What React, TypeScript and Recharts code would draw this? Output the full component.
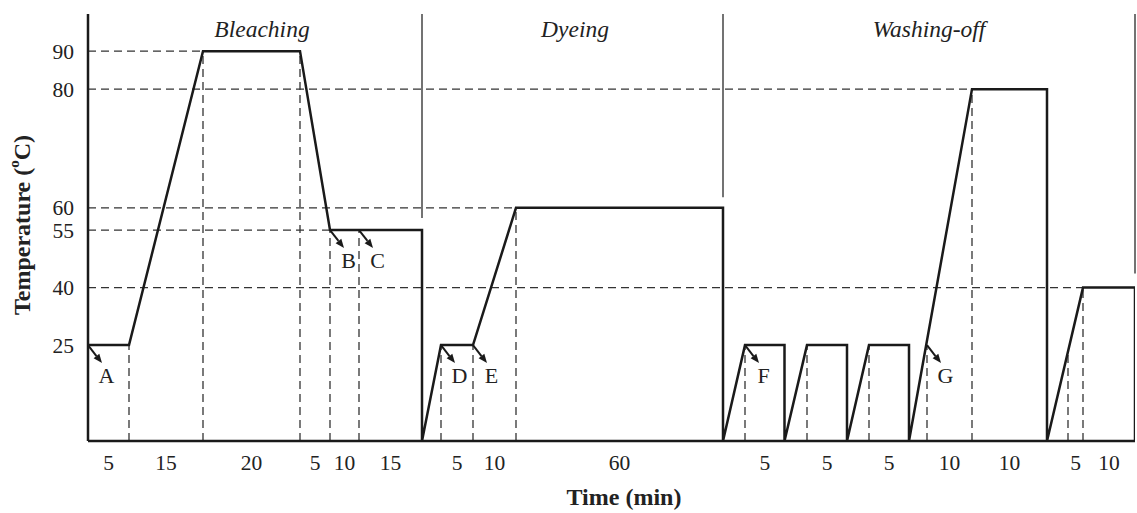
import React from "react";
import { LineChart, Line, XAxis, YAxis, ReferenceLine, ReferenceDot } from "recharts";

// Schematic time positions (segment widths are not drawn to time scale)
const profileX = [0, 4.1, 11.5, 21.2, 24.2, 33.4, 33.4, 35.3, 38.5, 42.8, 63.5, 63.5, 65.7, 69.65, 69.65, 71.9, 75.9, 75.9, 78.1, 82.1, 82.1, 88.4, 95.9, 95.9, 99.5, 104.7, 104.7];
const profileTemp = [25, 25, 90, 90, 55, 55, 0, 25, 25, 60, 60, 0, 25, 25, 0, 25, 25, 0, 25, 25, 0, 80, 80, 0, 40, 40, 0];

const tempTicks = [25, 40, 55, 60, 80, 90];

// duration of each step, written under the segment it spans
const segStart = [0, 4.1, 11.5, 21.2, 24.2, 27.1, 35.3, 38.5, 42.8, 65.7, 71.9, 78.1, 83.9, 88.4, 98.0, 99.5];
const segEnd = [4.1, 11.5, 21.2, 24.2, 27.1, 33.4, 38.5, 42.8, 63.5, 69.65, 75.9, 82.1, 88.4, 95.9, 99.5, 104.7];
const durationLabels = ["5", "15", "20", "5", "10", "15", "5", "10", "60", "5", "5", "5", "10", "10", "5", "10"];

// dashed guides
const hGuideTemp = [90, 80, 60, 55, 40];
const hGuideEnd = [11.5, 88.4, 42.8, 24.2, 99.5];
const vGuideX = [4.1, 11.5, 21.2, 24.2, 27.1, 35.3, 38.5, 42.8, 65.7, 71.9, 78.1, 83.9, 88.4, 98.0, 99.5];
const vGuideTop = [25, 90, 90, 55, 55, 25, 25, 60, 25, 25, 25, 25, 80, 23, 40];

// process stages
const phaseNames = ["Bleaching", "Dyeing", "Washing-off"];
const phaseCenter = [17.4, 48.7, 84.1];
const phaseDividerX = [33.4, 63.5, 104.7];
const phaseDividerFrom = [57.7, 61.8, 43.7];

// dosing points
const markNames = ["A", "B", "C", "D", "E", "F", "G"];
const markX = [0, 24.2, 27.1, 35.3, 38.5, 65.7, 83.9];
const markTemp = [25, 55, 55, 25, 25, 25, 25];

const profile = profileX.map((x, i) => ({ x, t: profileTemp[i] }));
const segMid = segStart.map((s, i) => +((s + segEnd[i]) / 2).toFixed(3));

const SERIF = '"Liberation Serif", "Times New Roman", serif';
const INK = "#1a1a1a";
const GUIDE = "#333";

// temperature axis is drawn with uneven spacing between its marks
const tempKnots = [0, 55, 60, 80, 90, 100];
const knotFrac = [0, 0.494, 0.546, 0.824, 0.913, 1];

function tempScale() {
  let dom: number[] = [0, 100];
  let rng: number[] = [0, 1];
  const s: any = (v: number) => {
    let i = 1;
    while (i < tempKnots.length - 1 && v > tempKnots[i]) i++;
    const t0 = tempKnots[i - 1];
    const t1 = tempKnots[i];
    const p = knotFrac[i - 1] + ((v - t0) / (t1 - t0)) * (knotFrac[i] - knotFrac[i - 1]);
    return rng[0] + p * (rng[1] - rng[0]);
  };
  s.domain = (d?: number[]) => {
    if (d === undefined) return dom.slice();
    dom = d.slice();
    return s;
  };
  s.range = (r?: number[]) => {
    if (r === undefined) return rng.slice();
    rng = r.slice();
    return s;
  };
  s.invert = (px: number) => {
    const p = (px - rng[0]) / (rng[1] - rng[0]);
    let i = 1;
    while (i < knotFrac.length - 1 && p > knotFrac[i]) i++;
    const f0 = knotFrac[i - 1];
    const f1 = knotFrac[i];
    return tempKnots[i - 1] + ((p - f0) / (f1 - f0)) * (tempKnots[i] - tempKnots[i - 1]);
  };
  s.ticks = () => tempTicks.slice();
  s.tickFormat = () => (v: number) => String(v);
  s.copy = () => tempScale().domain(dom).range(rng);
  return s;
}

const MarkArrow = (props: any) => {
  const { cx, cy, name } = props;
  if (cx == null || cy == null) return null;
  const dx = 14;
  const dy = 18;
  const len = Math.hypot(dx, dy);
  const ux = dx / len;
  const uy = dy / len;
  const tipX = cx + dx;
  const tipY = cy + dy;
  const bx = tipX - ux * 9;
  const by = tipY - uy * 9;
  return (
    <g>
      <line x1={cx} y1={cy} x2={bx} y2={by} stroke={INK} strokeWidth={2} />
      <polygon
        points={`${tipX},${tipY} ${bx - uy * 3.6},${by + ux * 3.6} ${bx + uy * 3.6},${by - ux * 3.6}`}
        fill={INK}
      />
      <text x={cx + 18.5} y={cy + 38} textAnchor="middle" fontFamily={SERIF} fontSize={22} fill="#222">
        {name}
      </text>
    </g>
  );
};

const PhaseTitle = (props: any) => {
  const { cx, cy, name } = props;
  if (cx == null || cy == null) return null;
  return (
    <text x={cx} y={cy + 23} textAnchor="middle" fontFamily={SERIF} fontStyle="italic" fontSize={23.5} fill="#222">
      {name}
    </text>
  );
};

export default function App() {
  return (
    <div style={{ position: "absolute", left: 0, top: 0, background: "#fff" }}>
      <LineChart
        width={1137}
        height={513}
        data={profile}
        margin={{ top: 14, right: 2, bottom: 32, left: 28 }}
      >
        <XAxis
          dataKey="x"
          type="number"
          domain={[0, 104.7]}
          ticks={segMid}
          interval={0}
          tickFormatter={(_v: number, i: number) => durationLabels[i]}
          tickLine={false}
          tickSize={0}
          tickMargin={14}
          height={40}
          axisLine={{ stroke: INK, strokeWidth: 2.5 }}
          tick={{ fill: "#222", fontSize: 21.5, fontFamily: SERIF }}
          allowDataOverflow
        />
        <YAxis
          dataKey="t"
          type="number"
          domain={[0, 100]}
          scale={tempScale()}
          ticks={tempTicks}
          interval={0}
          tickLine={false}
          tickSize={0}
          tickMargin={14}
          width={60}
          axisLine={{ stroke: INK, strokeWidth: 2.5 }}
          tick={{ fill: "#222", fontSize: 21.5, fontFamily: SERIF }}
          allowDataOverflow
        />

        {hGuideTemp.map((t, i) => (
          <ReferenceLine
            key={`h${i}`}
            segment={[{ x: 0, y: t }, { x: hGuideEnd[i], y: t }]}
            stroke={GUIDE}
            strokeWidth={1.3}
            strokeDasharray="8 5"
            ifOverflow="visible"
          />
        ))}
        {vGuideX.map((x, i) => (
          <ReferenceLine
            key={`v${i}`}
            segment={[{ x, y: 0 }, { x, y: vGuideTop[i] }]}
            stroke={GUIDE}
            strokeWidth={1.3}
            strokeDasharray="8 5"
            ifOverflow="visible"
          />
        ))}
        {phaseDividerX.map((x, i) => (
          <ReferenceLine
            key={`p${i}`}
            segment={[{ x, y: phaseDividerFrom[i] }, { x, y: 100 }]}
            stroke="#444"
            strokeWidth={1.5}
            ifOverflow="visible"
          />
        ))}
        {phaseNames.map((name, i) => (
          <ReferenceDot
            key={name}
            x={phaseCenter[i]}
            y={100}
            r={0}
            ifOverflow="visible"
            shape={(p: any) => <PhaseTitle {...p} name={name} />}
          />
        ))}

        <Line
          type="linear"
          dataKey="t"
          stroke={INK}
          strokeWidth={2.5}
          dot={false}
          activeDot={false}
          isAnimationActive={false}
        />

        {markNames.map((name, i) => (
          <ReferenceDot
            key={name}
            x={markX[i]}
            y={markTemp[i]}
            r={0}
            ifOverflow="visible"
            shape={(p: any) => <MarkArrow {...p} name={name} />}
          />
        ))}

        <text
          x={22}
          y={225}
          transform="rotate(-90 22 225)"
          textAnchor="middle"
          dominantBaseline="central"
          fontFamily={SERIF}
          fontWeight="bold"
          fontSize={24}
          fill="#222"
        >
          Temperature (
          <tspan dy={-8} fontSize={15}>o</tspan>
          <tspan dy={8}>C)</tspan>
        </text>
        <text x={624} y={505} textAnchor="middle" fontFamily={SERIF} fontWeight="bold" fontSize={24} fill="#222">
          Time (min)
        </text>
      </LineChart>
    </div>
  );
}
